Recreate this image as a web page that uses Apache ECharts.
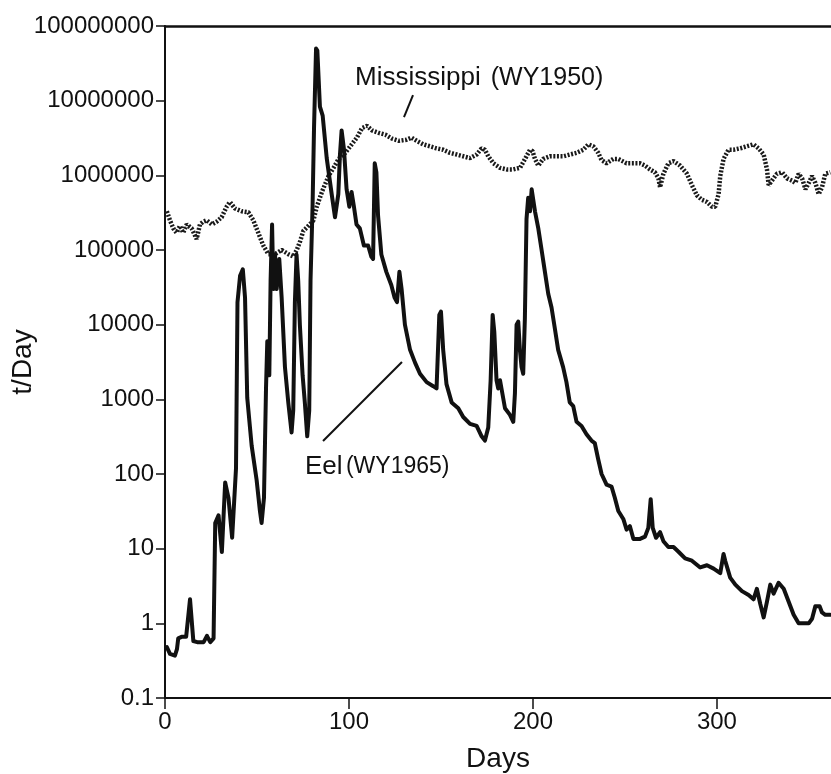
<!DOCTYPE html>
<html>
<head>
<meta charset="utf-8">
<script src="https://cdn.jsdelivr.net/npm/echarts@6/dist/echarts.min.js"></script>
<style>
html,body{margin:0;padding:0;background:#fff;}
#chart{width:831px;height:774px;}
</style>
</head>
<body>
<div id="chart"></div>
<script>
// ---- Data ----
const eelDays = [1,2.7,5.4,6.5,7.2,9,11.5,13.6,15.4,17.5,21,22.8,24.6,26.4,27.3,29.1,30.9,32.7,34.5,36.5,38.6,39.4,40.8,42.3,43.5,44.7,47.1,49.8,51.6,52.5,53.8,54.9,55.6,56.7,57.4,58.2,58.9,59.8,60.7,62.1,63.4,65.2,67,68.8,69.7,70.6,71.5,72.4,73.3,74.8,76,77.3,78.4,79.1,80.2,81,82.1,82.8,84.2,85.7,87.9,90.6,92.4,94.2,95.1,96,97.3,98.7,100.2,101.4,102.7,104.1,105.9,108.1,110.4,112.2,113.1,114,114.9,115.8,117.6,120.3,123,124.8,126.1,127.4,128.6,130.4,133.2,135.9,138.6,142.2,145.8,147.6,149.1,150,151.2,153,155.8,159.4,162.1,165.8,169.4,172.1,173.9,175.7,177,178.1,179,180.2,181.1,182.1,184.8,187.5,189.3,190.2,191.1,192,192.9,193.8,194.7,195.6,196.5,197.4,198.4,199.3,200.1,201.1,202.9,204.7,206.5,208.3,210.1,211.9,213.7,216.4,218.2,220,221.9,223.7,226.4,229.1,231.8,233.6,235.4,237.3,240,242.7,244.5,246.4,247.3,249.1,250.9,252.7,254.6,258.2,260.9,262.7,264,265.1,266.9,269.1,270.9,273.6,276.4,279.1,282.7,286.4,290.9,294.6,298.2,301.8,303.6,304.5,307.2,310,313.6,317.2,319.9,321.7,323.6,325.4,327.2,329,330.8,333.5,336.3,339,341.7,344.4,347.1,349.9,351.7,353.5,355.8,357.1,358.9,361.6];
const eelValues = [0.48,0.39,0.37,0.45,0.63,0.66,0.66,2.1,0.58,0.56,0.56,0.68,0.56,0.63,22,28,9,77,48,14,120,20000,45000,55000,23000,1050,240,83,32,22,48,1400,6000,2100,39000,220000,30000,87000,30000,76000,23000,2700,910,360,710,20000,87000,39000,10000,2100,910,320,710,39000,380000,4.3e6,5.0e7,4.7e7,8.3e6,6.3e6,1.7e6,5.6e5,2.75e5,5.6e5,1.9e6,4.0e6,2.2e6,6.5e5,3.8e5,6.0e5,3.8e5,2.2e5,1.95e5,1.15e5,1.15e5,8.1e4,7.6e4,1.45e6,1.1e6,2.9e5,8.7e4,5.1e4,3.4e4,2.3e4,2.0e4,5.1e4,3.0e4,1.0e4,4600,3100,2200,1700,1500,1400,13500,15000,4600,1600,910,760,580,470,440,320,280,420,1800,13500,7900,1800,1400,1800,760,620,500,1200,10000,11000,4600,2700,2200,12000,2.6e5,5.0e5,3.3e5,6.5e5,6.9e5,3.3e5,1.95e5,1.0e5,5.1e4,2.6e4,1.7e4,8900,4600,2700,1700,910,810,500,440,340,280,260,160,100,72,68,48,32,34,25,18,20,13.5,13.5,14.5,19,46,19,14,16.6,12.6,10.5,10.5,9.1,7.4,6.9,5.6,6.0,5.4,4.7,8.5,6.9,4.1,3.3,2.7,2.4,2.1,2.9,1.8,1.2,1.95,3.3,2.5,3.5,2.9,1.95,1.3,1.0,1.0,1.0,1.15,1.7,1.7,1.4,1.3,1.3];

const missDays = [1,2.7,4.5,6.3,8.1,9.9,11.8,14.5,17.2,19,20.8,22.6,25.4,28.1,30.8,33.5,35.3,38,41.7,45.3,48,50.7,53.4,56.2,59.8,63.4,67,69.8,71.6,73.4,75.2,77.9,80.7,82.5,85.3,88.9,91.6,94.4,98,100.7,104.3,107.1,109.8,112.5,116.2,119.8,123.4,127.1,131.3,134,136.8,140.4,144,147.6,151.3,154.9,158.5,162.1,165.8,169.4,172.1,173.9,175.7,178.5,182.1,185.7,189.3,193,195.7,198.4,199.8,201.1,202.9,205.6,209.2,212.9,216.5,220.1,223.7,227.4,230.1,232.8,235.5,237.3,240,243.7,246.4,250.9,254.6,258.2,260.9,263.6,266.3,268.2,269.1,270.9,273.6,276.4,280,283.7,286.4,289.1,291.8,294.6,297.3,299.1,300.9,301.8,303.6,306.3,309,312.7,316.3,319.9,322.6,325.4,327.2,328.1,329.9,332.6,335.4,338.1,340.8,342.6,344.4,346.3,348.1,349.9,351.7,353.5,355.3,357.1,358.9,361.6];
const missValues = [3.3e5,2.5e5,1.95e5,1.7e5,2.1e5,1.7e5,2.2e5,1.95e5,1.4e5,2.2e5,2.4e5,2.5e5,2.2e5,2.4e5,2.75e5,3.8e5,4.4e5,3.6e5,3.3e5,3.2e5,2.5e5,1.7e5,1.15e5,8.8e4,8.8e4,1.0e5,8.8e4,8.2e4,1.0e5,1.3e5,1.8e5,2.1e5,2.5e5,3.8e5,6.0e5,9.8e5,1.26e6,1.66e6,2.0e6,2.45e6,3.2e6,4.3e6,4.6e6,4.0e6,3.7e6,3.5e6,3.1e6,2.9e6,3.0e6,3.2e6,2.9e6,2.6e6,2.45e6,2.3e6,2.2e6,2.0e6,1.9e6,1.8e6,1.7e6,1.9e6,2.3e6,2.2e6,1.8e6,1.45e6,1.26e6,1.2e6,1.2e6,1.26e6,1.66e6,2.2e6,2.1e6,1.66e6,1.35e6,1.66e6,1.8e6,1.8e6,1.8e6,1.9e6,2.0e6,2.2e6,2.6e6,2.45e6,2.0e6,1.6e6,1.45e6,1.66e6,1.66e6,1.45e6,1.45e6,1.45e6,1.35e6,1.2e6,1.1e6,9.1e5,6.9e5,1.05e6,1.45e6,1.55e6,1.35e6,1.05e6,7.4e5,5.4e5,4.7e5,4.4e5,3.8e5,3.8e5,5.6e5,9.8e5,1.66e6,2.2e6,2.2e6,2.3e6,2.45e6,2.6e6,2.3e6,1.9e6,1.2e6,7.4e5,8.5e5,1.05e6,1.1e6,9.1e5,8.5e5,7.9e5,1.05e6,9.1e5,6.5e5,7.9e5,9.8e5,7.9e5,5.6e5,6.9e5,1.05e6,1.1e6];

const xTicks = [0, 100, 200, 300];
const yTicks = [0.1, 1, 10, 100, 1000, 10000, 100000, 1000000, 10000000, 100000000];
const xName = 'Days';
const yName = 't/Day';
const missLabel = ['Mississippi', '(WY1950)'];
const eelLabel = ['Eel', '(WY1965)'];
// annotation anchors in data space: [day, value]
const missTextAt = [103.3, 2.0e7];
const missLeader = [[134.8, 1.19e7], [129.9, 6.0e6]];
const eelTextAt = [76.1, 124];
const eelLeader = [[85.9, 276], [128.8, 3160]];

const FONT = '"Liberation Sans", Arial, sans-serif';
const chart = echarts.init(document.getElementById('chart'), null, {renderer: 'canvas'});

function fmtY(v) {
  if (v < 1) return String(Math.round(v * 10) / 10);
  return String(Math.round(v));
}

const option = {
  animation: false,
  backgroundColor: '#fff',
  grid: {left: 165, top: 26, right: 0, bottom: 76, containLabel: false, outerBoundsMode: 'none'},
  xAxis: [{
    type: 'value', min: 0, max: 362, interval: 100,
    name: xName, nameLocation: 'middle', nameGap: 47, nameMoveOverlap: false,
    nameTextStyle: {fontFamily: FONT, fontSize: 28, color: '#111'},
    axisLine: {show: true, onZero: false, lineStyle: {color: '#111', width: 2}},
    axisTick: {show: true, inside: false, length: 11, customValues: xTicks, lineStyle: {color: '#111', width: 1.5}},
    axisLabel: {fontFamily: FONT, fontSize: 24, color: '#111', margin: 12, customValues: xTicks,
      formatter: v => String(v)},
    splitLine: {show: false}
  }, {
    type: 'value', min: 0, max: 362, position: 'top',
    axisLine: {show: true, lineStyle: {color: '#111', width: 2.5}},
    axisTick: {show: false}, axisLabel: {show: false}, splitLine: {show: false}
  }],
  yAxis: {
    type: 'log', logBase: 10, min: 0.1, max: 1e8,
    name: yName, nameLocation: 'middle', nameGap: 128, nameRotate: 90, nameMoveOverlap: false,
    nameTextStyle: {fontFamily: FONT, fontSize: 28, color: '#111'},
    axisLine: {show: true, lineStyle: {color: '#111', width: 2}},
    axisTick: {show: true, inside: false, length: 9, lineStyle: {color: '#111', width: 1.5}},
    axisLabel: {fontFamily: FONT, fontSize: 24, color: '#111', margin: 11,
      formatter: v => {
        const s = fmtY(v);
        return yTicks.some(t => fmtY(t) === s) ? s : '';
      }},
    splitLine: {show: false}
  },
  series: [{
    name: 'Mississippi (WY1950)', type: 'line', xAxisIndex: 0,
    data: missDays.map((d, i) => [d, missValues[i]]),
    showSymbol: false, symbol: 'none',
    lineStyle: {color: '#1a1a1a', width: 4.5, type: [2, 1.6], cap: 'butt'},
    z: 2
  }, {
    name: 'Eel (WY1965)', type: 'line', xAxisIndex: 0,
    data: eelDays.map((d, i) => [d, eelValues[i]]),
    showSymbol: false, symbol: 'none',
    lineStyle: {color: '#111', width: 4, join: 'round', cap: 'round'},
    z: 3
  }]
};
chart.setOption(option);

function px(p) { return chart.convertToPixel({gridIndex: 0}, p); }
const mt = px(missTextAt), ml0 = px(missLeader[0]), ml1 = px(missLeader[1]);
const et = px(eelTextAt), el0 = px(eelLeader[0]), el1 = px(eelLeader[1]);

chart.setOption({
  graphic: [
    {type: 'text', x: mt[0], y: mt[1], style: {
      text: '{a|' + missLabel[0] + '}   {b|' + missLabel[1] + '}',
      verticalAlign: 'middle', fill: '#111',
      rich: {a: {fontFamily: FONT, fontSize: 26, fill: '#111'}, b: {fontFamily: FONT, fontSize: 25, fill: '#111'}}
    }},
    {type: 'line', shape: {x1: ml0[0], y1: ml0[1], x2: ml1[0], y2: ml1[1]}, style: {stroke: '#111', lineWidth: 2}},
    {type: 'text', x: et[0], y: et[1], style: {
      text: '{a|' + eelLabel[0] + '} {b|' + eelLabel[1] + '}',
      verticalAlign: 'middle', fill: '#111',
      rich: {a: {fontFamily: FONT, fontSize: 26, fill: '#111'}, b: {fontFamily: FONT, fontSize: 23, fill: '#111'}}
    }},
    {type: 'line', shape: {x1: el0[0], y1: el0[1], x2: el1[0], y2: el1[1]}, style: {stroke: '#111', lineWidth: 2}}
  ]
});
</script>
</body>
</html>
